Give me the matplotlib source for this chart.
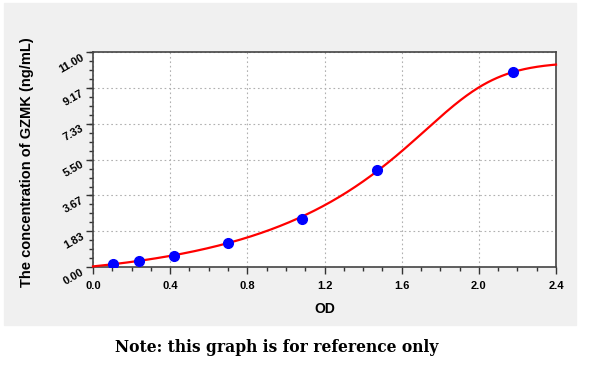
import numpy as np
import matplotlib
matplotlib.use("Agg")
import matplotlib.pyplot as plt
from matplotlib.ticker import MultipleLocator, AutoMinorLocator

# standard points (OD, concentration)
od = [0.102, 0.240, 0.420, 0.700, 1.082, 1.470, 2.179]
conc = [0.14, 0.32, 0.57, 1.22, 2.46, 4.96, 9.99]
# points
curve_x = [0.0, 0.10, 0.24, 0.42, 0.70, 0.81, 1.08, 1.20, 1.40, 1.47, 1.60,
           1.76, 1.885, 2.00, 2.09, 2.18, 2.265, 2.40]
curve_y = [0.02, 0.15, 0.32, 0.57, 1.22, 1.43, 2.46, 3.28, 4.54, 4.96, 5.90,
           7.33, 8.29, 9.22, 9.74, 9.99, 10.20, 10.21]
x_ticks = [0.0, 0.4, 0.8, 1.2, 1.6, 2.0, 2.4]
y_ticks = [0.00, 1.83, 3.67, 5.50, 7.33, 9.17, 11.00]


def richards_fit(xv, yv):
    """Least-squares Richards curve y = a + (d-a) / (1 + nu*exp(-k(x-x0)))**(1/nu)."""
    xv = np.asarray(xv, float)
    yv = np.asarray(yv, float)
    ks = np.linspace(2, 30, 57)
    nus = np.logspace(-1, 1.5, 40)
    x0s = np.linspace(1.0, 2.6, 65)
    K, NU, X0 = np.meshgrid(ks, nus, x0s, indexing="ij")
    K, NU, X0 = K.ravel(), NU.ravel(), X0.ravel()
    z = np.clip(-K[:, None] * (xv[None, :] - X0[:, None]), -200, 200)
    f = (1 + NU[:, None] * np.exp(z)) ** (-1 / NU[:, None])
    fm = f.mean(1, keepdims=True)
    ym = yv.mean()
    cov = ((f - fm) * (yv - ym)).sum(1)
    var = ((f - fm) ** 2).sum(1) + 1e-12
    slope = cov / var
    inter = ym - slope * fm[:, 0]
    sse = ((inter[:, None] + slope[:, None] * f - yv) ** 2).sum(1)
    i = np.argmin(sse)
    return K[i], NU[i], X0[i], inter[i], slope[i]


k, nu, x0, a, s = richards_fit(curve_x, curve_y)
xs = np.linspace(0, 2.4, 400)
ys = a + s * (1 + nu * np.exp(-k * (xs - x0))) ** (-1 / nu)

fig = plt.figure(figsize=(6.0, 3.66), dpi=100)
fig.patch.set_facecolor("white")
W, H = 600, 366
panel = plt.Rectangle((4 / W, 1 - 325 / H), (576 - 4) / W, (325 - 3) / H,
                      transform=fig.transFigure, color="#f0f0f0", zorder=-10)
fig.patches.append(panel)

ax = fig.add_axes([93 / W, 1 - 267 / H, (556 - 93) / W, (267 - 52) / H])
ax.set_zorder(5)
ax.set_facecolor("white")

ax.plot(xs, ys, color="red", lw=1.6, zorder=3, clip_on=False)
ax.plot(od, conc, "o", color="#0000ff", ms=7, zorder=4)

ax.set_xlim(0, 2.4)
ax.set_ylim(0, 11)
ax.set_xticks(x_ticks)
ax.set_yticks(y_ticks)
ax.set_xticklabels([f"{v:.1f}" for v in x_ticks], fontsize=8, fontweight="bold",
                   family="Liberation Sans")
ax.set_yticklabels([f"{v:.2f}" for v in y_ticks], fontsize=8, fontweight="bold",
                   family="Liberation Sans", rotation=30, rotation_mode="anchor",
                   ha="right", va="top")
ax.xaxis.set_minor_locator(MultipleLocator(0.1))
ax.yaxis.set_minor_locator(AutoMinorLocator(4))
ax.tick_params(axis="both", which="major", direction="out", length=5, width=1, color="#333333")
ax.tick_params(axis="both", which="minor", direction="out", length=3, width=1, color="#333333")
ax.tick_params(axis="y", pad=4)
ax.tick_params(axis="x", pad=5)
ax.grid(True, which="major", linestyle=(0, (1.5, 2.5)), color="#b0b0b0", lw=0.8)
for s_ in ax.spines.values():
    s_.set_color("#444444")
    s_.set_linewidth(1.2)

ax.set_xlabel("OD", fontsize=10, fontweight="bold", family="Liberation Sans", labelpad=8)
fig.text(27 / W, 1 - 162 / H, "The concentration of GZMK (ng/mL)", rotation=90,
         ha="center", va="center", fontsize=10.5, fontweight="bold", family="Liberation Sans")

fig.text(277 / W, 1 - 347 / H, "Note: this graph is for reference only", ha="center",
         va="center", fontsize=11.2, fontweight="bold", family="DejaVu Serif")

fig.savefig("out.png", dpi=100)
